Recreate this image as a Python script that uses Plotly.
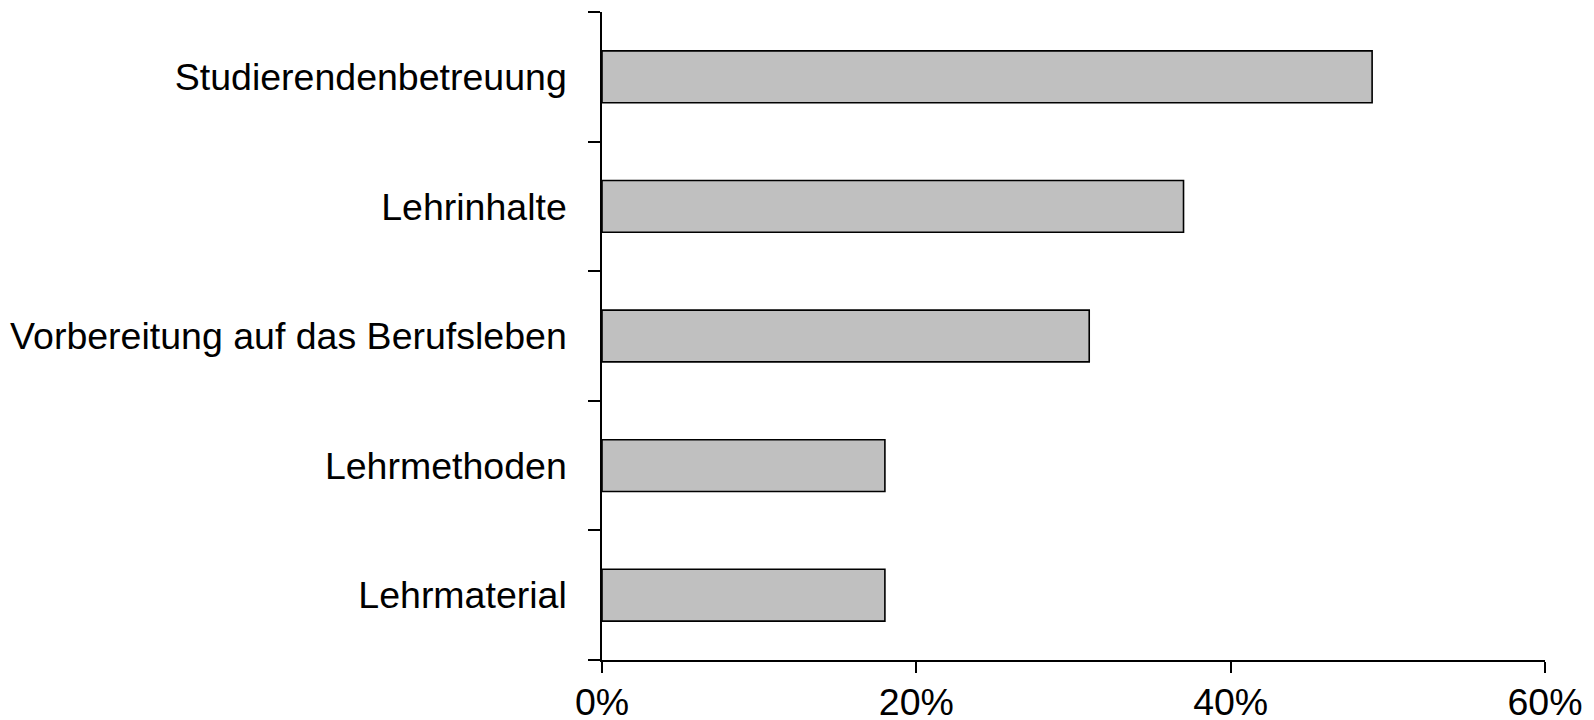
import plotly.graph_objects as go

categories = ["Lehrmaterial", "Lehrmethoden", "Vorbereitung auf das Berufsleben", "Lehrinhalte", "Studierendenbetreuung"]
values = [18, 18, 31, 37, 49]
x_ticks = [0, 20, 40, 60]
x_tick_labels = ["0%", "20%", "40%", "60%"]

fig = go.Figure(go.Bar(
    x=values, y=categories, orientation="h", width=0.4,
    marker=dict(color="#C0C0C0", line=dict(color="black", width=1.6)),
))

font = dict(family="Liberation Sans, Arial, sans-serif", size=37.5, color="black")
# page body has an 8px margin, so the figure is offset by 8px inside the window
fig.update_layout(
    width=1578, height=712,
    margin=dict(l=594, r=41, t=4, b=60, autoexpand=False),
    plot_bgcolor="white", paper_bgcolor="white",
    showlegend=False, font=font,
)
fig.update_xaxes(
    range=[0, 60], tickvals=x_ticks, ticktext=x_tick_labels, automargin=False,
    showgrid=False, zeroline=False, showline=True, linecolor="black", linewidth=1.5,
    ticks="outside", ticklen=11, tickwidth=1.5, tickcolor="black", tickfont=font,
    ticklabelstandoff=-3,
)
fig.update_yaxes(
    type="category", categoryorder="array", categoryarray=categories, automargin=False,
    range=[-0.5, 4.5], tickson="boundaries",
    showgrid=False, zeroline=False, showline=True, linecolor="black", linewidth=1.5,
    ticks="outside", ticklen=12, tickwidth=1.5, tickcolor="black", tickfont=font,
    ticklabelstandoff=26,
)
fig.write_html("out.html")
